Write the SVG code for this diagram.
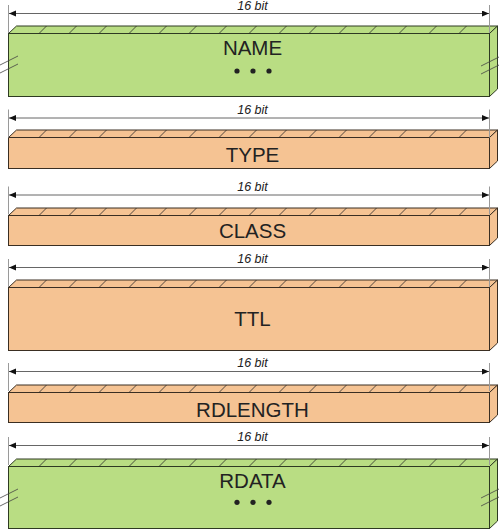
<svg xmlns="http://www.w3.org/2000/svg" xmlns:xlink="http://www.w3.org/1999/xlink" width="499" height="529" viewBox="0 0 499 529">
<style>
.green{fill:#b9dd83;stroke:#2e3a22;stroke-width:1}
.orange{fill:#f5c393;stroke:#3a2e22;stroke-width:1}
.hatch{fill:none;stroke:#2a2a2a;stroke-width:0.8}
.ext{stroke:#9a9a9a;stroke-width:1;fill:none}
.dim{stroke:#666;stroke-width:1;fill:none}
.brk{stroke:#444;stroke-width:0.8;fill:none}
.bit{font-family:"Liberation Sans",Arial,sans-serif;font-style:italic;font-size:12.5px;fill:#222;text-anchor:middle}
.lbl{font-family:"Liberation Sans",Arial,sans-serif;font-size:20.5px;fill:#222;text-anchor:middle}
.dot{fill:#222}
</style>
<defs>
<marker id="arr" markerUnits="userSpaceOnUse" markerWidth="8" markerHeight="7" refX="7" refY="3" orient="auto-start-reverse">
<path d="M0,0 L7,3 L0,6 z" fill="#111"/>
</marker>
<path id="hatch" d="M39,0 l7.5,-7.5 m22.5,7.5 l7.5,-7.5 m22.5,7.5 l7.5,-7.5 m22.5,7.5 l7.5,-7.5 m22.5,7.5 l7.5,-7.5 m22.5,7.5 l7.5,-7.5 m22.5,7.5 l7.5,-7.5 m22.5,7.5 l7.5,-7.5 m22.5,7.5 l7.5,-7.5 m22.5,7.5 l7.5,-7.5 m22.5,7.5 l7.5,-7.5 m22.5,7.5 l7.5,-7.5 m22.5,7.5 l7.5,-7.5 m22.5,7.5 l7.5,-7.5 m22.5,7.5 l7.5,-7.5"/>
</defs>

<g id="name">
<polygon class="green" points="8.5,33.5 16.5,26 497.5,26 489.5,33.5"/>
<polygon class="green" points="489.5,33.5 497.5,26 497.5,89 489.5,96.5"/>
<rect class="green" x="8.5" y="33.5" width="481" height="63"/>
<use href="#hatch" class="hatch" y="33.5"/>
<text class="lbl" x="252.5" y="55">NAME</text>
<circle class="dot" cx="237" cy="71" r="2.6"/><circle class="dot" cx="253" cy="71" r="2.6"/><circle class="dot" cx="269" cy="71" r="2.6"/>
<path class="brk" d="M0,65 L18,56 M0,73 L18,64 M481,66 L499,57 M481,74 L499,65"/>
</g>

<g id="type">
<polygon class="orange" points="8.5,137.5 16.5,130 497.5,130 489.5,137.5"/>
<polygon class="orange" points="489.5,137.5 497.5,130 497.5,161 489.5,168.5"/>
<rect class="orange" x="8.5" y="137.5" width="481" height="31"/>
<use href="#hatch" class="hatch" y="137.5"/>
<text class="lbl" x="252.5" y="161.7">TYPE</text>
</g>

<g id="class">
<polygon class="orange" points="8.5,215.5 16.5,208 497.5,208 489.5,215.5"/>
<polygon class="orange" points="489.5,215.5 497.5,208 497.5,238 489.5,245.5"/>
<rect class="orange" x="8.5" y="215.5" width="481" height="30"/>
<use href="#hatch" class="hatch" y="215.5"/>
<text class="lbl" x="252.5" y="237.7">CLASS</text>
</g>

<g id="ttl">
<polygon class="orange" points="8.5,287.5 16.5,280 497.5,280 489.5,287.5"/>
<polygon class="orange" points="489.5,287.5 497.5,280 497.5,343 489.5,350.5"/>
<rect class="orange" x="8.5" y="287.5" width="481" height="63"/>
<use href="#hatch" class="hatch" y="287.5"/>
<text class="lbl" x="252.5" y="326">TTL</text>
</g>

<g id="rdlength">
<polygon class="orange" points="8.5,392.5 16.5,385 497.5,385 489.5,392.5"/>
<polygon class="orange" points="489.5,392.5 497.5,385 497.5,415 489.5,422.5"/>
<rect class="orange" x="8.5" y="392.5" width="481" height="30"/>
<use href="#hatch" class="hatch" y="392.5"/>
<text class="lbl" x="252.5" y="416.5">RDLENGTH</text>
</g>

<g id="rdata">
<polygon class="green" points="8.5,466.5 16.5,459 497.5,459 489.5,466.5"/>
<polygon class="green" points="489.5,466.5 497.5,459 497.5,521 489.5,528.5"/>
<rect class="green" x="8.5" y="466.5" width="481" height="62"/>
<use href="#hatch" class="hatch" y="466.5"/>
<text class="lbl" x="252.5" y="488.3">RDATA</text>
<circle class="dot" cx="237" cy="502.3" r="2.6"/><circle class="dot" cx="253" cy="502.3" r="2.6"/><circle class="dot" cx="269" cy="502.3" r="2.6"/>
<path class="brk" d="M0,498 L18,489 M0,506 L18,497 M481,498 L499,489 M481,506 L499,497"/>
</g>

<g id="connectors">
<g transform="translate(0,0)">
<path class="ext" d="M8.5,5 V33 M489.5,5 V33"/>
<line class="dim" x1="9" y1="13.5" x2="489" y2="13.5" marker-start="url(#arr)" marker-end="url(#arr)"/>
<text class="bit" x="252.5" y="9.5">16 bit</text>
</g>
<g transform="translate(0,104.5)">
<path class="ext" d="M8.5,5 V33 M489.5,5 V33"/>
<line class="dim" x1="9" y1="13.5" x2="489" y2="13.5" marker-start="url(#arr)" marker-end="url(#arr)"/>
<text class="bit" x="252.5" y="9">16 bit</text>
</g>
<g transform="translate(0,181.5)">
<path class="ext" d="M8.5,5 V33 M489.5,5 V33"/>
<line class="dim" x1="9" y1="13.5" x2="489" y2="13.5" marker-start="url(#arr)" marker-end="url(#arr)"/>
<text class="bit" x="252.5" y="9">16 bit</text>
</g>
<g transform="translate(0,254)">
<path class="ext" d="M8.5,5 V33 M489.5,5 V33"/>
<line class="dim" x1="9" y1="13.5" x2="489" y2="13.5" marker-start="url(#arr)" marker-end="url(#arr)"/>
<text class="bit" x="252.5" y="9">16 bit</text>
</g>
<g transform="translate(0,358)">
<path class="ext" d="M8.5,5 V33 M489.5,5 V33"/>
<line class="dim" x1="9" y1="13.5" x2="489" y2="13.5" marker-start="url(#arr)" marker-end="url(#arr)"/>
<text class="bit" x="252.5" y="9">16 bit</text>
</g>
<g transform="translate(0,432)">
<path class="ext" d="M8.5,5 V33 M489.5,5 V33"/>
<line class="dim" x1="9" y1="13.5" x2="489" y2="13.5" marker-start="url(#arr)" marker-end="url(#arr)"/>
<text class="bit" x="252.5" y="9">16 bit</text>
</g>
</g>
</svg>
